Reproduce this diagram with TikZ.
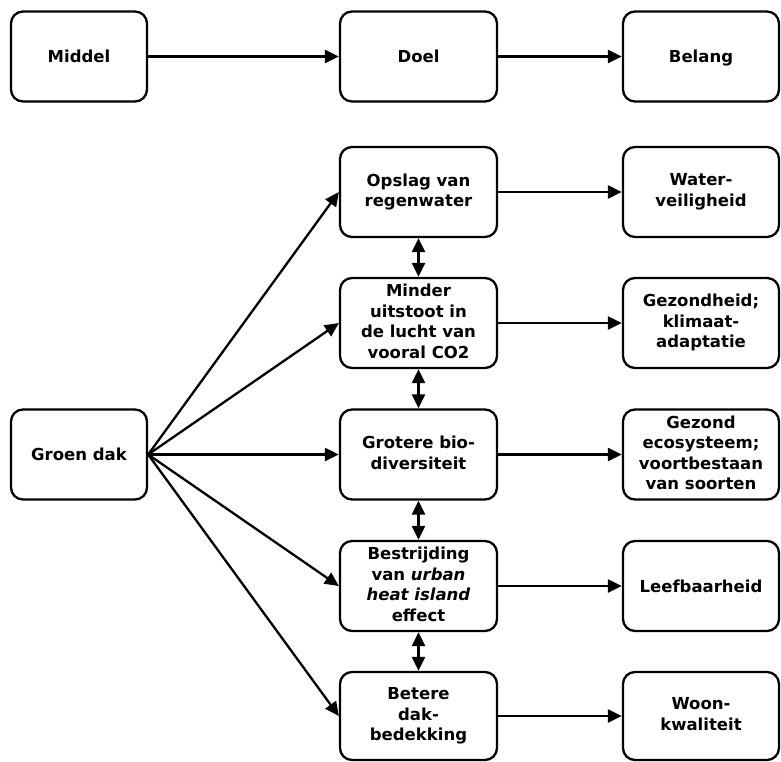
\documentclass[tikz,border=0pt]{standalone}
\usepackage{fontspec}
\setmainfont{DejaVu Sans}
\usetikzlibrary{arrows.meta}
\newcommand\boxstrut{\rule[-4pt]{0pt}{20pt}}
\begin{document}
\begin{tikzpicture}[x=1pt,y=-1pt,
  box/.style={draw, line width=2.3pt, rounded corners=12pt, align=center,
    font=\bfseries\fontsize{16.5}{20.5}\selectfont, inner sep=0pt, minimum height=90pt,
    execute at begin node=\boxstrut, execute at end node=\boxstrut},
  lbox/.style={box, minimum width=136pt},
  mbox/.style={box, minimum width=157pt},
  rbox/.style={box, minimum width=156pt},
  tip/.tip={Triangle[length=14pt,width=13pt]},
  arr/.style={line width=2.3pt, -tip},
  darr/.style={line width=2.3pt, tip-tip}]
\useasboundingbox (0,0) rectangle (781,761);
% top row
\node[lbox] (middel) at (79,56.5) {Middel};
\node[mbox] (doel) at (418.5,56.5) {Doel};
\node[rbox] (belang) at (701,56.5) {Belang};
% left
\node[lbox] (groen) at (79,454.5) {Groen dak};
% middle column
\node[mbox] (m1) at (418.5,192) {Opslag van\\regenwater};
\node[mbox] (m2) at (418.5,323) {Minder\\uitstoot in\\de lucht van\\vooral CO2};
\node[mbox] (m3) at (418.5,454.5) {Grotere bio-\\diversiteit};
\node[mbox] (m4) at (418.5,586) {Bestrijding\\van \textit{urban}\\\textit{heat island}\\effect};
\node[mbox, minimum height=88pt] (m5) at (418.5,716) {Betere\\dak-\\bedekking};
% right column
\node[rbox] (r1) at (701,192) {Water-\\veiligheid};
\node[rbox] (r2) at (701,323) {Gezondheid;\\klimaat-\\adaptatie};
\node[rbox] (r3) at (701,454.5) {Gezond\\ecosysteem;\\voortbestaan\\van soorten};
\node[rbox] (r4) at (701,586) {Leefbaarheid};
\node[rbox, minimum height=88pt] (r5) at (701,716) {Woon-\\kwaliteit};
% arrows
\draw[arr] (middel) -- (doel);
\draw[arr] (doel) -- (belang);
\foreach \i in {1,...,5}{
  \draw[arr] (groen.east) -- (m\i.west);
  \draw[arr] (m\i) -- (r\i);
}
\draw[darr] (m1) -- (m2);
\draw[darr] (m2) -- (m3);
\draw[darr] (m3) -- (m4);
\draw[darr] (m4) -- (m5);
\end{tikzpicture}
\end{document}
